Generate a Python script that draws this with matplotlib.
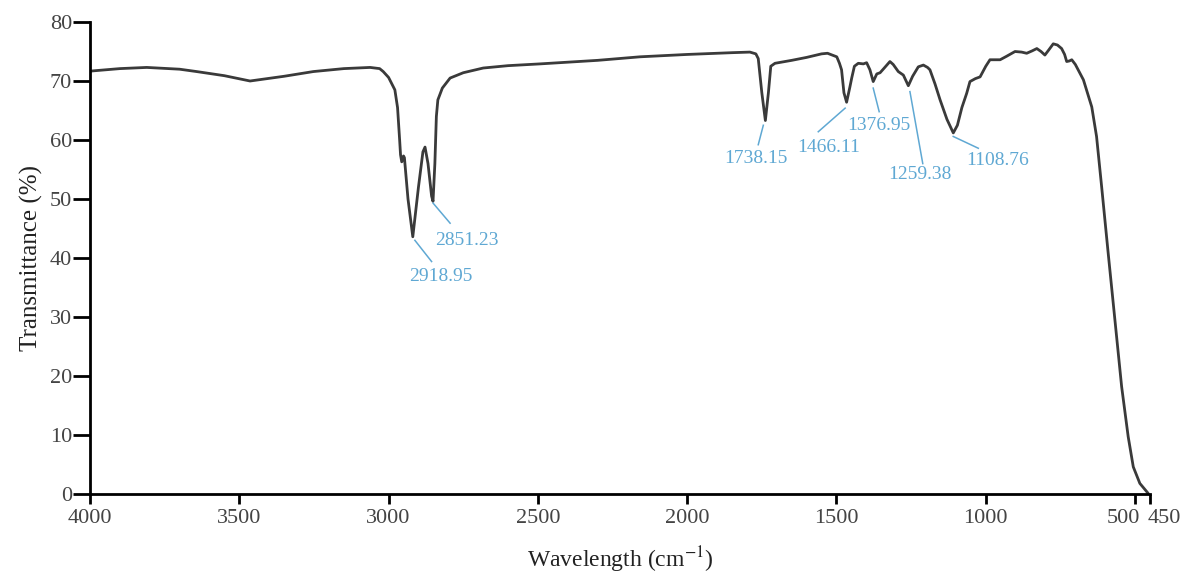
import matplotlib
matplotlib.use("Agg")
import matplotlib.pyplot as plt
from matplotlib.transforms import ScaledTranslation

# FTIR spectrum
wavenumber = [
    4000, 3994, 3900, 3810, 3700, 3643, 3550, 3464, 3350, 3252, 3150, 3062,
    3030, 3018, 3000, 2979, 2970, 2963, 2960, 2956, 2950, 2947, 2935, 2918.95,
    2900, 2885, 2878, 2868, 2856, 2851.23, 2845, 2840, 2835, 2820, 2794, 2750,
    2683, 2600, 2493, 2300, 2158, 2000, 1850, 1790, 1770, 1762, 1750, 1738.15,
    1728, 1720, 1706, 1650, 1600, 1550, 1530, 1499, 1490, 1483, 1475, 1466.11,
    1455, 1449, 1440, 1427, 1410, 1399, 1388, 1376.95, 1365, 1354, 1340, 1321,
    1310, 1293, 1276, 1259.38, 1245, 1226, 1209, 1195, 1187, 1170, 1153, 1130,
    1108.76, 1095, 1080, 1064, 1053, 1035, 1019, 1000, 986, 952, 930, 902,
    880, 863, 845, 829, 815, 802, 790, 774, 760, 746, 736, 729, 720, 712,
    700, 673, 645, 629, 612, 590, 567.5, 545, 523, 506, 484, 456,
]
transmittance = [
    71.6, 71.7, 72.1, 72.3, 72.0, 71.6, 70.9, 70.0, 70.8, 71.6, 72.1, 72.3,
    72.1, 71.6, 70.6, 68.5, 65.5, 60.0, 57.5, 56.3, 57.3, 57.0, 50.0, 43.6,
    52.0, 58.0, 58.8, 56.0, 50.5, 49.6, 56.0, 64.0, 66.8, 68.8, 70.5, 71.4,
    72.2, 72.6, 72.9, 73.5, 74.1, 74.5, 74.8, 74.9, 74.6, 73.8, 68.0, 63.3,
    68.0, 72.5, 73.0, 73.5, 74.0, 74.6, 74.7, 74.1, 73.0, 71.9, 68.0, 66.4,
    69.0, 70.5, 72.5, 73.0, 72.9, 73.1, 71.9, 69.9, 71.2, 71.4, 72.2, 73.3,
    72.8, 71.6, 71.0, 69.2, 70.8, 72.4, 72.7, 72.3, 71.9, 69.5, 66.8, 63.5,
    61.2, 62.5, 65.5, 67.9, 69.9, 70.4, 70.7, 72.5, 73.6, 73.6, 74.2, 75.0,
    74.9, 74.7, 75.1, 75.5, 75.0, 74.4, 75.2, 76.3, 76.1, 75.5, 74.5, 73.3,
    73.4, 73.6, 72.8, 70.2, 65.6, 60.6, 52.1, 40.8, 29.5, 18.2, 9.7, 4.6,
    1.8, 0.1,
]

# peak labels: text, leader line start/end (wn, T), text centre (wn, T)
peak_labels = ["2918.95", "2851.23", "1738.15", "1466.11", "1376.95", "1259.38", "1108.76"]
line_start = [(2912, 43.0), (2851, 49.3), (1745, 62.5), (1471, 65.4),
              (1377, 68.8), (1254, 68.2), (1109, 60.6)]
line_end = [(2856, 39.4), (2794, 45.9), (1762, 59.2), (1561, 61.4),
            (1357, 64.8), (1211, 56.0), (1025, 58.6)]
text_pos = [(2825, 36.8), (2737, 43.0), (1770, 56.9), (1525, 58.8),
            (1358, 62.4), (1220, 54.2), (962, 56.6)]

x_ticks = [4000, 3500, 3000, 2500, 2000, 1500, 1000, 500, 450]
y_ticks = [0, 10, 20, 30, 40, 50, 60, 70, 80]

plt.rcParams["font.family"] = ["Liberation Serif", "DejaVu Serif"]
plt.rcParams["mathtext.fontset"] = "stix"

fig = plt.figure(figsize=(11.88, 5.79), dpi=100)
ax = fig.add_axes([90 / 1188, 1 - 494 / 579, 1060 / 1188, 472 / 579])

ax.plot(wavenumber, transmittance, color="#3a3a3a", lw=2.0,
        solid_joinstyle="round", solid_capstyle="round")

blue = "#5fa8d3"
for lab, s, e, t in zip(peak_labels, line_start, line_end, text_pos):
    ax.plot([s[0], e[0]], [s[1], e[1]], color=blue, lw=1.1)
    ax.text(t[0], t[1], lab, color=blue, fontsize=14, ha="center", va="center")

ax.set_xlim(4000, 450)
ax.set_ylim(0, 80)
ax.set_xticks(x_ticks)
ax.set_yticks(y_ticks)
ax.tick_params(axis="both", direction="out", width=2, labelsize=16,
               colors="black", labelcolor="#444444")
ax.tick_params(axis="x", length=7, pad=4)
ax.tick_params(axis="y", length=12, pad=1)

# 500 and 450 sit close together: push them apart like the original
xlabels = ax.get_xticklabels()
xlabels[-2].set_horizontalalignment("right")
xlabels[-2].set_transform(xlabels[-2].get_transform()
                          + ScaledTranslation(5 / 100, 0, fig.dpi_scale_trans))
xlabels[-1].set_horizontalalignment("left")
xlabels[-1].set_transform(xlabels[-1].get_transform()
                          + ScaledTranslation(-2 / 100, 0, fig.dpi_scale_trans))

for side in ["top", "right"]:
    ax.spines[side].set_visible(False)
for side in ["left", "bottom"]:
    ax.spines[side].set_linewidth(2)

ax.set_xlabel("Wavelength (cm$^{-1}$)", fontsize=17, color="#222222", labelpad=12)
ax.set_ylabel("Transmittance (%)", fontsize=18, color="#222222", labelpad=5)

fig.savefig("out.png", dpi=100)
